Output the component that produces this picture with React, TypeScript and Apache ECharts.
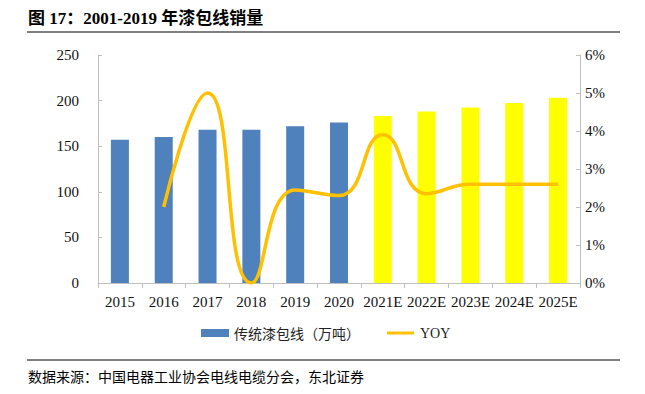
import React, { useEffect, useRef } from "react";
import * as echarts from "echarts";

const categories = ["2015", "2016", "2017", "2018", "2019", "2020", "2021E", "2022E", "2023E", "2024E", "2025E"];
const salesValues = [157, 160, 168, 168, 172, 176, 183, 188, 192.5, 197.5, 203];
const forecastFrom = 6;
const yoyValues: (number | null)[] = [null, 2.0, 5.0, 0.0, 2.45, 2.3, 3.9, 2.35, 2.6, 2.6, 2.6];
const leftTicks = [0, 50, 100, 150, 200, 250];
const rightTicks = [0, 1, 2, 3, 4, 5, 6];

const titleText = "图 17：2001-2019 年漆包线销量";
const sourceText = "数据来源：中国电器工业协会电线电缆分会，东北证券";
const barName = "传统漆包线（万吨）";
const lineName = "YOY";

const SERIF = "'Liberation Serif', 'Times New Roman', 'Noto Sans CJK SC', serif";
const CJK = "'Noto Sans CJK SC', sans-serif";
const BLUE = "#4F81BD";
const YELLOW = "#FFFF00";
const ORANGE = "#FFC000";

export default function App() {
  const ref = useRef<HTMLDivElement>(null);
  useEffect(() => {
    if (!ref.current) return;
    const chart = echarts.init(ref.current, undefined, { renderer: "svg" });
    chart.setOption({
      animation: false,
      backgroundColor: "#ffffff",
      grid: { left: 98, right: 65, top: 55, bottom: 111 },
      legend: { show: false },
      xAxis: {
        type: "category",
        data: categories,
        boundaryGap: true,
        axisLine: { lineStyle: { color: "#BFBFBF" } },
        axisTick: { show: true, alignWithLabel: false, length: 5, lineStyle: { color: "#BFBFBF" } },
        axisLabel: { fontFamily: SERIF, fontSize: 15, color: "#111", margin: 11, interval: 0 },
      },
      yAxis: [
        {
          type: "value",
          min: leftTicks[0],
          max: leftTicks[leftTicks.length - 1],
          interval: 50,
          axisLine: { show: true, lineStyle: { color: "#BFBFBF" } },
          axisTick: { show: true, inside: true, length: 4, lineStyle: { color: "#BFBFBF" } },
          splitLine: { show: false },
          axisLabel: { fontFamily: SERIF, fontSize: 15, color: "#111", margin: 19 },
        },
        {
          type: "value",
          min: rightTicks[0],
          max: rightTicks[rightTicks.length - 1],
          interval: 1,
          position: "right",
          axisLine: { show: true, lineStyle: { color: "#BFBFBF" } },
          axisTick: { show: true, inside: true, length: 4, lineStyle: { color: "#BFBFBF" } },
          splitLine: { show: false },
          axisLabel: { fontFamily: SERIF, fontSize: 15, color: "#111", margin: 5, formatter: "{value}%" },
        },
      ],
      series: [
        {
          name: barName,
          type: "bar",
          yAxisIndex: 0,
          barWidth: 18,
          itemStyle: { color: BLUE },
          data: salesValues.map((v, i) => ({
            value: v,
            itemStyle: { color: i >= forecastFrom ? YELLOW : BLUE },
          })),
        },
        {
          name: lineName,
          type: "line",
          yAxisIndex: 1,
          smooth: 0.5,
          symbol: "none",
          connectNulls: false,
          lineStyle: { color: ORANGE, width: 3.5 },
          itemStyle: { color: ORANGE },
          data: yoyValues,
        },
      ],
      graphic: [
        {
          type: "text",
          left: 28,
          top: 10,
          style: { text: titleText, fontFamily: SERIF, fontWeight: "bold", fontSize: 17, fill: "#000" },
        },
        {
          type: "line",
          shape: { x1: 27, y1: 32, x2: 620, y2: 32 },
          style: { stroke: "#000", lineWidth: 1.2 },
        },
        {
          type: "rect",
          shape: { x: 201, y: 329, width: 28, height: 8 },
          style: { fill: BLUE },
        },
        {
          type: "text",
          x: 234,
          y: 333,
          style: { text: barName, fontFamily: CJK, fontSize: 14, fill: "#222", verticalAlign: "middle" },
        },
        {
          type: "line",
          shape: { x1: 387, y1: 333, x2: 414, y2: 333 },
          style: { stroke: ORANGE, lineWidth: 3 },
        },
        {
          type: "text",
          x: 420,
          y: 333,
          style: { text: lineName, fontFamily: SERIF, fontSize: 14, fill: "#222", verticalAlign: "middle" },
        },
        {
          type: "line",
          shape: { x1: 27, y1: 360, x2: 620, y2: 360 },
          style: { stroke: "#000", lineWidth: 1 },
        },
        {
          type: "text",
          left: 28,
          top: 369,
          style: { text: sourceText, fontFamily: CJK, fontSize: 14, fill: "#000" },
        },
      ],
    });
    return () => chart.dispose();
  }, []);
  return (
    <div
      ref={ref}
      style={{ position: "fixed", left: 0, top: 0, width: 645, height: 394, background: "#fff" }}
    />
  );
}
